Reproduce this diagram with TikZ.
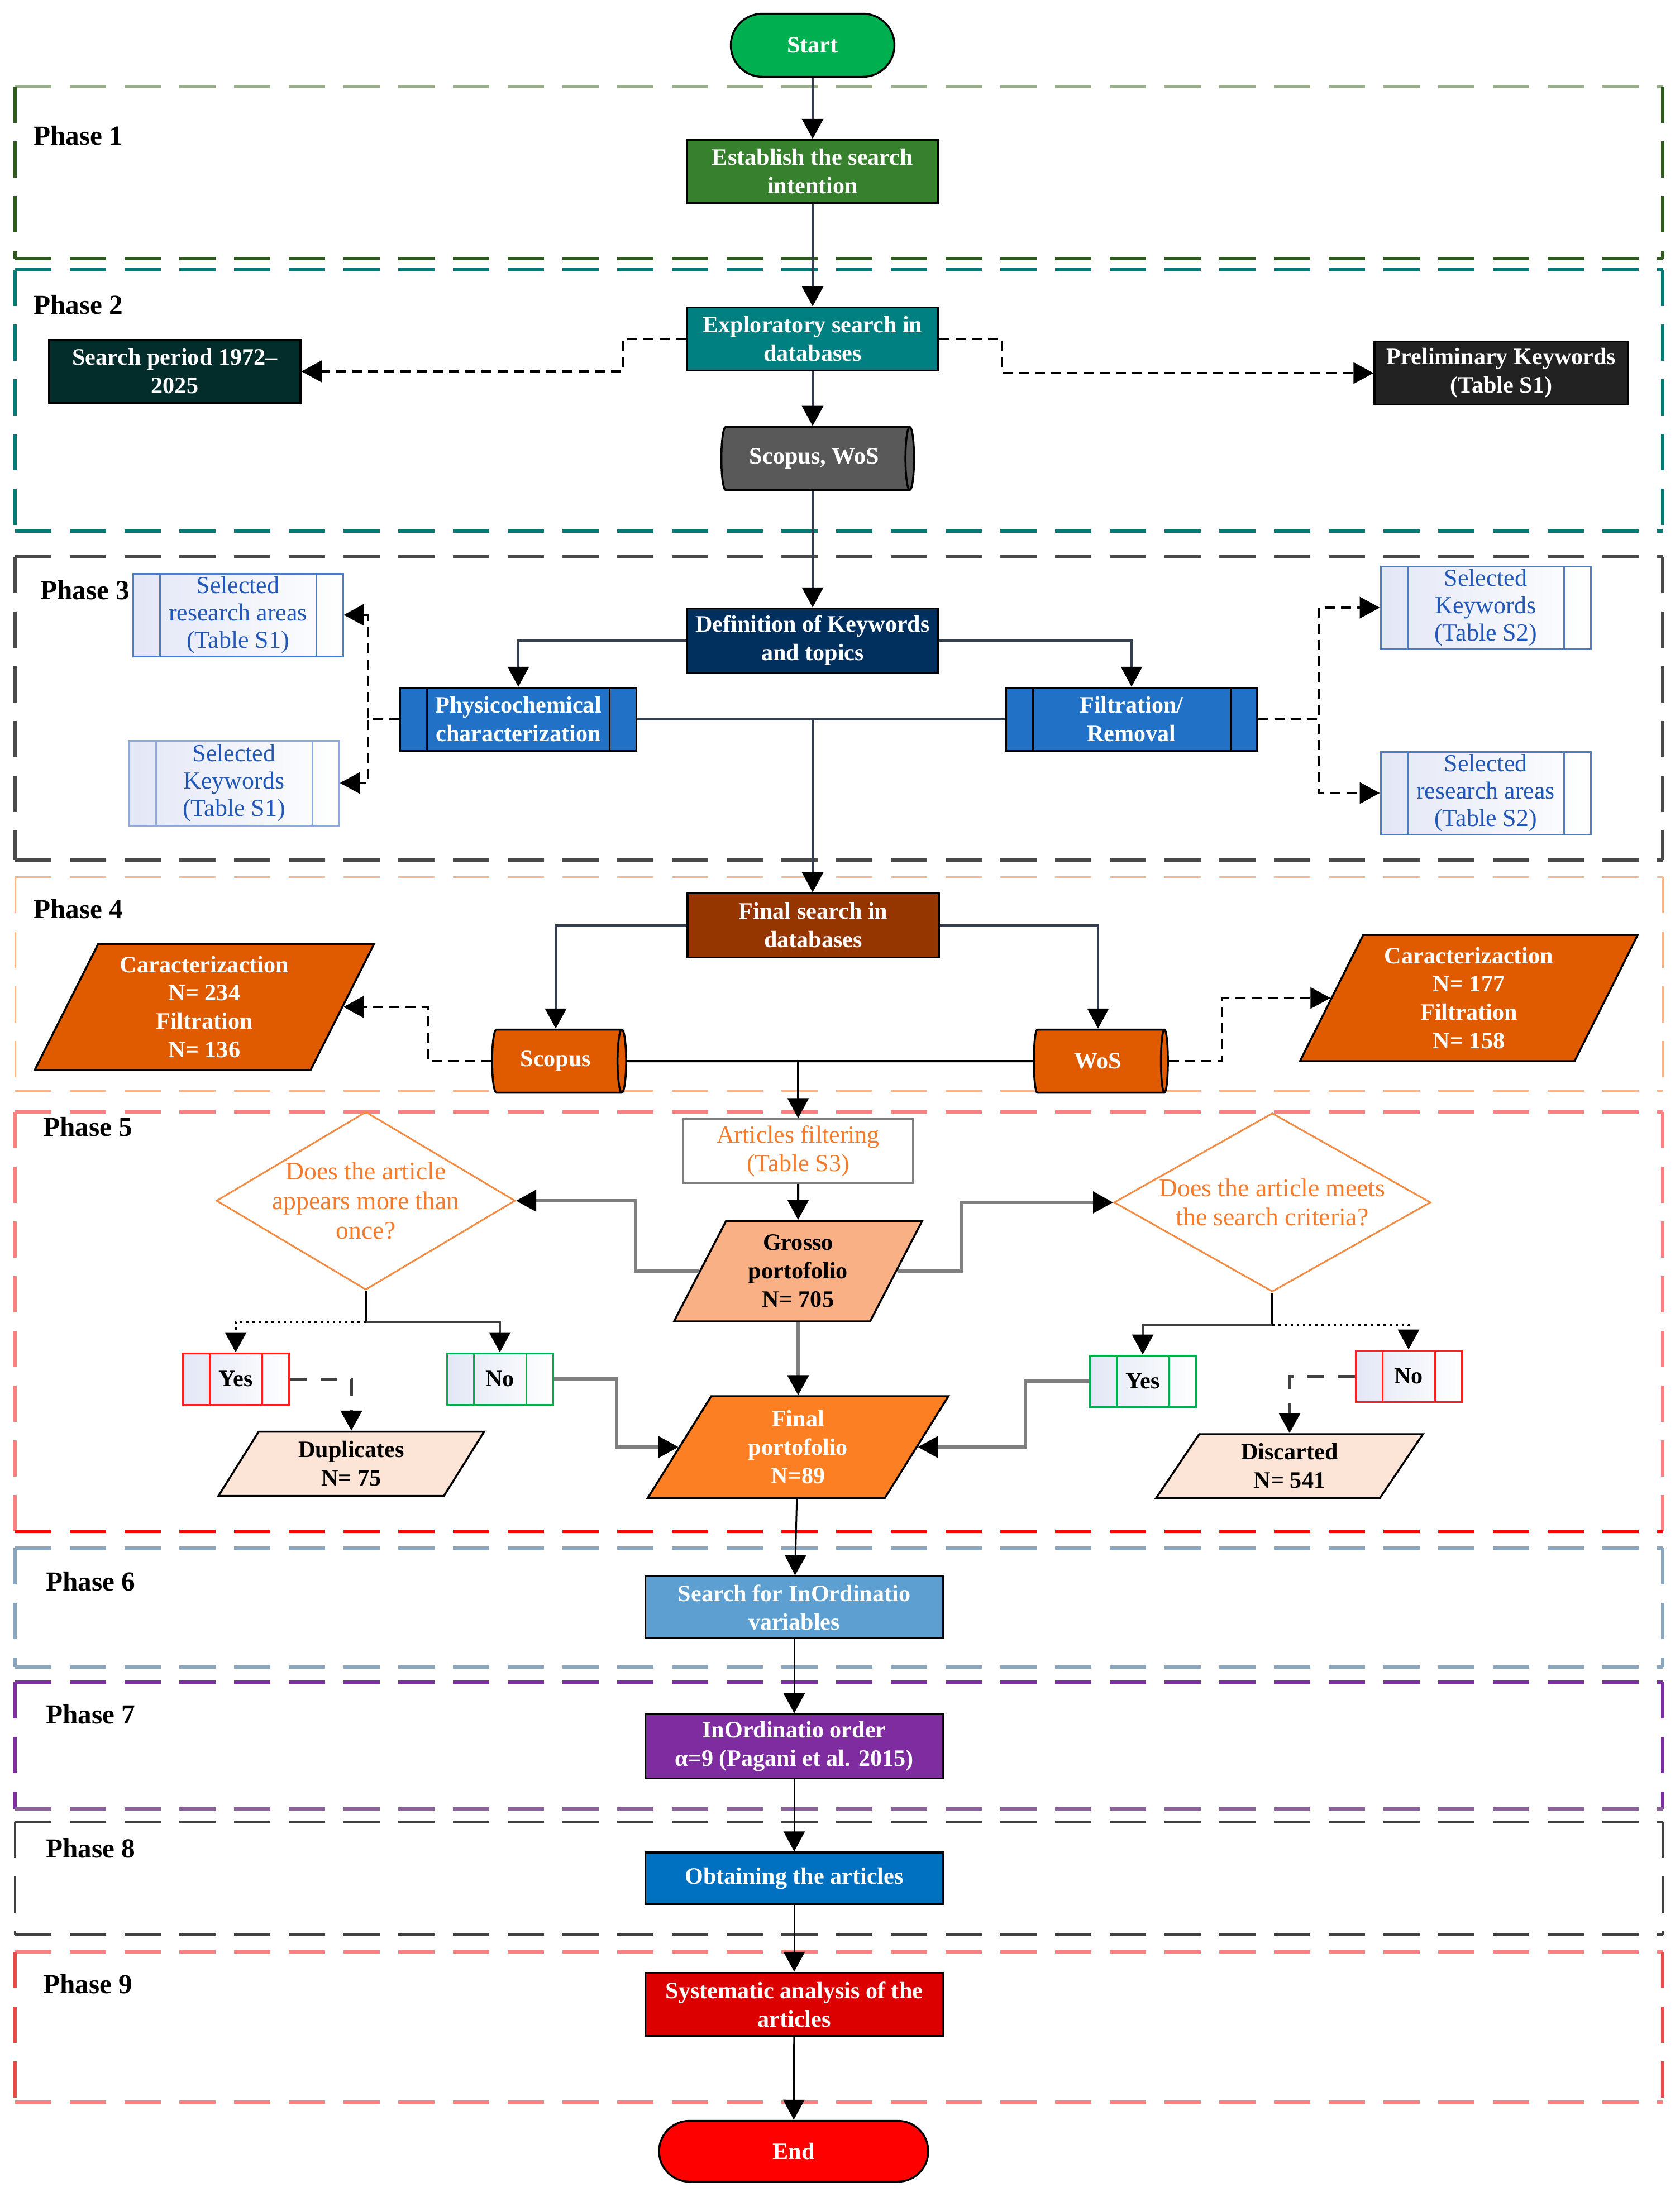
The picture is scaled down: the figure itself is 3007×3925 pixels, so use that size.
\documentclass[tikz,border=0pt]{standalone}
\usepackage{fontspec}
\setmainfont{Liberation Serif}
\usetikzlibrary{arrows.meta,shapes.geometric,shapes.misc}
\definecolor{startGreen}{HTML}{00B050}
\definecolor{estabGreen}{HTML}{37802D}
\definecolor{explTeal}{HTML}{008080}
\definecolor{periodDark}{HTML}{022D2B}
\definecolor{prelimDark}{HTML}{222222}
\definecolor{dbGrey}{HTML}{595959}
\definecolor{defNavy}{HTML}{01305F}
\definecolor{procBlue}{HTML}{2171C7}
\definecolor{listBlueA}{HTML}{4A7CCB}
\definecolor{listBlueB}{HTML}{8EAADB}
\definecolor{listText}{HTML}{2158B8}
\definecolor{lavLight}{HTML}{E3E7F6}
\definecolor{searchBrown}{HTML}{953500}
\definecolor{dbOrange}{HTML}{E05A00}
\definecolor{filtOrange}{HTML}{F47B2C}
\definecolor{decOrange}{HTML}{F28C45}
\definecolor{grossoPeach}{HTML}{F9B084}
\definecolor{finalOrange}{HTML}{FD7F24}
\definecolor{discPeach}{HTML}{FCE4D6}
\definecolor{noRed}{HTML}{FF1F1F}
\definecolor{yesGreen}{HTML}{00B050}
\definecolor{varBlue}{HTML}{5C9FD0}
\definecolor{ordPurple}{HTML}{7E2CA0}
\definecolor{getBlue}{HTML}{0070C0}
\definecolor{sysRed}{HTML}{DD0000}
\definecolor{endRed}{HTML}{FF0000}
\definecolor{spine}{HTML}{333F50}
\definecolor{connGrey}{HTML}{7F7F7F}
\definecolor{phOneTop}{HTML}{9AAE8E}
\definecolor{phOne}{HTML}{2E5A1E}
\definecolor{phTwo}{HTML}{007B76}
\definecolor{phThree}{HTML}{4A4A4A}
\definecolor{phFour}{HTML}{F8B88C}
\definecolor{phFive}{HTML}{FF8080}
\definecolor{phSix}{HTML}{8BA7BF}
\definecolor{phSevenTop}{HTML}{7B2FA0}
\definecolor{phSeven}{HTML}{8A619C}
\definecolor{phEight}{HTML}{404040}
\definecolor{phNine}{HTML}{FF8080}
\definecolor{phNineSide}{HTML}{E84A4A}
% dashed phase frame: [width]{top}{sides}{bottom}{y top}{y bottom}
\newcommand{\phaseFrame}[6][0.55mm]{%
  \draw[line width=#1, dash pattern=on 6.5mm off 3.3mm, #2] (27,#5) -- (2977,#5);
  \draw[line width=#1, dash pattern=on 6.5mm off 3.3mm, #3] (27,#5) -- (27,#6);
  \draw[line width=#1, dash pattern=on 6.5mm off 3.3mm, #3] (2977,#5) -- (2977,#6);
  \draw[line width=#1, dash pattern=on 6.5mm off 3.3mm, #4] (27,#6) -- (2977,#6);}

\begin{document}
\begin{tikzpicture}[
    x=0.1mm, y=-0.1mm,
    font=\fontsize{12}{14.5}\selectfont,
    box/.style={draw=black, line width=0.35mm, align=center, text=white,
                font=\fontsize{12}{14.5}\selectfont\bfseries,
                minimum width=45mm, minimum height=11.3mm, inner sep=1pt},
    termbox/.style={box, rounded rectangle, minimum width=30mm},
    procbox/.style={box, path picture={
        \draw[#1, line width=0.3mm] ([xshift=4.8mm]path picture bounding box.north west)
          -- ([xshift=4.8mm]path picture bounding box.south west);
        \draw[#1, line width=0.3mm] ([xshift=-4.8mm]path picture bounding box.north east)
          -- ([xshift=-4.8mm]path picture bounding box.south east);}},
    listbox/.style={procbox=#1, draw=#1, line width=0.3mm, left color=lavLight, right color=white,
                    text=listText, font=\fontsize{12.5}{14}\selectfont,
                    minimum width=37.6mm, minimum height=14.8mm},
    choicebox/.style={procbox=#1, draw=#1, line width=0.3mm, left color=lavLight, right color=white,
                      text=black, minimum width=19mm, minimum height=9.2mm},
    dbcyl/.style={box, cylinder, shape border rotate=0, aspect=0.35, fill=#1,
                  minimum width=11.3mm, minimum height=24mm},
    databox/.style={box, trapezium, trapezium left angle=64, trapezium right angle=116,
                    trapezium stretches=true},
    decision/.style={diamond, draw=decOrange, line width=0.3mm, text=filtOrange, align=center,
                     font=\fontsize{13}{15}\selectfont, inner sep=-1mm},
    phaselabel/.style={anchor=west, font=\fontsize{14}{16}\selectfont\bfseries},
    arr/.style={-{Triangle[length=3.6mm,width=3.8mm,color=black]}, line width=0.4mm, draw=spine},
    dasharr/.style={arr, draw=black, dash pattern=on 1.8mm off 1.1mm},
    garr/.style={arr, draw=connGrey, line width=0.6mm},
    ldarr/.style={arr, draw=phEight, line width=0.5mm, dash pattern=on 3mm off 2.5mm}
]
\useasboundingbox (0,0) rectangle (3007,3925);

% -- phase frames
\phaseFrame{phOneTop}{phOne}{phOne}{155}{463}
\phaseFrame{phTwo}{phTwo}{phTwo}{483}{951}
\phaseFrame{phThree}{phThree}{phThree}{997}{1540}
\phaseFrame[0.3mm]{phFour}{phFour}{phFour}{1570}{1953}
\phaseFrame{phFive}{phFive}{endRed}{1991}{2742}
\phaseFrame{phSix}{phSix}{phSix}{2772}{2985}
\phaseFrame{phSevenTop}{phSevenTop}{phSeven}{3012}{3239}
\phaseFrame[0.4mm]{phEight}{phEight}{phEight}{3262}{3464}
\phaseFrame{phNine}{phNineSide}{phNine}{3495}{3764}

\node[phaselabel] (lab1) at (48,243) {Phase 1};
\node[phaselabel] (lab2) at (48,546) {Phase 2};
\node[phaselabel] (lab3) at (60,1057) {Phase 3};
\node[phaselabel] (lab4) at (48,1628) {Phase 4};
\node[phaselabel] (lab5) at (65,2018) {Phase 5};
\node[phaselabel] (lab6) at (70,2832) {Phase 6};
\node[phaselabel] (lab7) at (70,3070) {Phase 7};
\node[phaselabel] (lab8) at (70,3310) {Phase 8};
\node[phaselabel] (lab9) at (65,3553) {Phase 9};

% -- Phase 1-2: intention and exploratory search
\node[termbox, fill=startGreen] (start) at (1455,81) {Start};
\node[box, fill=estabGreen] (estab) at (1455,307) {Establish the search\\intention};
\node[box, fill=explTeal] (explor) at (1455,607) {Exploratory search in\\databases};
\node[box, fill=periodDark] (period) at (313,665) {Search period 1972–\\2025};
\node[box, fill=prelimDark, minimum width=45.4mm] (prelim) at (2688,668) {Preliminary Keywords\\(Table S1)};
\node[dbcyl=dbGrey, minimum height=34.5mm] (scopwos) at (1458,821) {Scopus, WoS};

% -- Phase 3: keywords and topics
\node[box, fill=defNavy, minimum height=11.5mm] (defin) at (1455,1147) {Definition of Keywords\\and topics};
\node[procbox=black, fill=procBlue, minimum width=42.3mm] (phys) at (928,1288) {Physicochemical\\characterization};
\node[procbox=black, fill=procBlue] (filt) at (2026,1288) {Filtration/\\Removal};
\node[listbox=listBlueA] (rsaOne) at (426,1101) {Selected\\research areas\\(Table S1)};
\node[listbox=listBlueB, minimum height=15.2mm] (kwOne) at (419,1402) {Selected\\Keywords\\(Table S1)};
\node[listbox=listBlueA] (kwTwo) at (2660,1088) {Selected\\Keywords\\(Table S2)};
\node[listbox=listBlueA] (rsaTwo) at (2660,1420) {Selected\\research areas\\(Table S2)};
\coordinate (junc) at (phys.east -| defin.south);

% -- Phase 4: final search
\node[box, fill=searchBrown, minimum height=11.5mm] (fsearch) at (1456,1657) {Final search in\\databases};
\node[dbcyl=dbOrange] (scopus) at (995,1900) {Scopus};
\node[dbcyl=dbOrange] (wos) at (1966,1900) {WoS};
\node[databox, fill=dbOrange, minimum width=60.8mm, minimum height=22.6mm] (carOne) at (366,1803)
  {Caracterizaction\\N= 234\\Filtration\\N= 136};
\node[databox, fill=dbOrange, minimum width=60.5mm, minimum height=22.6mm] (carTwo) at (2630,1787)
  {Caracterizaction\\N= 177\\Filtration\\N= 158};
\coordinate (dbjoin) at (1429,1900);

% -- Phase 5: filtering
\node[box, fill=white, draw=connGrey, text=filtOrange, font=\fontsize{12.5}{14.5}\selectfont,
      minimum width=41.1mm, minimum height=11.4mm] (artfilt) at (1429,2061) {Articles filtering\\(Table S3)};
\node[databox, fill=grossoPeach, text=black, minimum width=44.5mm, minimum height=18mm] (grosso) at (1429,2276)
  {Grosso\\portofolio\\N= 705};
\node[databox, fill=finalOrange, minimum width=54.2mm, minimum height=18.2mm] (final) at (1429,2591)
  {Final\\portofolio\\N=89};
\node[decision, aspect=1.68, minimum width=53.5mm, minimum height=31.9mm] (decOne) at (655,2150)
  {Does the article\\appears more than\\once?};
\node[decision, aspect=1.77, minimum width=56.7mm, minimum height=32mm] (decTwo) at (2278,2153)
  {Does the article meets\\the search criteria?};
\coordinate (forkOne) at ([yshift=-5.6mm]decOne.south);
\coordinate (forkTwo) at ([yshift=-5.7mm]decTwo.south);
\node[choicebox=noRed] (yesOne) at (422,2469) {Yes};
\node[choicebox=yesGreen] (noOne) at (895,2469) {No};
\node[choicebox=yesGreen] (yesTwo) at (2046,2473) {Yes};
\node[choicebox=noRed] (noTwo) at (2522,2464) {No};
\node[databox, fill=discPeach, text=black, minimum width=47.8mm, minimum height=11.5mm] (dupl) at (629,2621)
  {Duplicates\\N= 75};
\node[databox, fill=discPeach, text=black, minimum width=47.8mm, minimum height=11.4mm] (disc) at (2309,2625)
  {Discarted\\N= 541};

% -- Phase 6-9
\node[box, fill=varBlue, minimum width=53.3mm, minimum height=11.1mm] (invars) at (1422,2878) {Search for InOrdinatio\\variables};
\node[box, fill=ordPurple, minimum width=53.3mm, minimum height=11.5mm] (inord) at (1422,3127) {InOrdinatio order\\α=9 (Pagani et al. 2015)};
\node[box, fill=getBlue, minimum width=53.3mm, minimum height=9.2mm] (obtain) at (1422,3363) {Obtaining the articles};
\node[box, fill=sysRed, minimum width=53.3mm, minimum height=11.3mm] (system) at (1422,3589) {Systematic analysis of the\\articles};
\node[termbox, fill=endRed, minimum width=48.9mm, minimum height=10.9mm] (endn) at (1421,3852) {End};

% -- arrows
\draw[arr] (start) -- (estab);
\draw[arr] (estab) -- (explor);
\draw[arr] (explor) -- (explor.south |- scopwos.north);
\draw[arr] (scopwos.south -| explor.south) -- (defin);
\draw[dasharr] (explor.west) -- ++(-112,0) |- (period.east);
\draw[dasharr] (explor.east) -- ++(112,0) |- (prelim.west);
\draw[arr] (defin.west) -| (phys.north);
\draw[arr] (defin.east) -| (filt.north);
\draw[arr, -] (phys.east) -- (filt.west);
\draw[arr] (junc) -- (fsearch.north -| junc);
\draw[dasharr] (phys.west) -- ++(-56,0) |- (rsaOne.east);
\draw[dasharr] (phys.west) -- ++(-56,0) |- (kwOne.east);
\draw[dasharr] (filt.east) -- ++(108,0) |- (kwTwo.west);
\draw[dasharr] (filt.east) -- ++(108,0) |- (rsaTwo.west);
\draw[arr] (fsearch.west) -| (scopus.north);
\draw[arr] (fsearch.east) -| (wos.north);
\draw[arr, -, draw=black] (scopus.east) -- (wos.west);
\draw[arr, draw=black] (dbjoin) -- (artfilt.north);
\draw[dasharr] (scopus.west) -- ++(-112,0) |- (carOne.east);
\draw[dasharr] (wos.east) -- ++(95,0) |- (carTwo.west);
\draw[arr, draw=black] (artfilt) -- (grosso);
\draw[garr] (grosso) -- (final);
\draw[garr] (grosso.west) -- ++(-114,0) |- (decOne.east);
\draw[garr] (grosso.east) -- ++(114,0) |- (decTwo.west);
\draw[arr, -, draw=black] (decOne.south) -- (forkOne);
\draw[arr, draw=black, dotted] (forkOne) -| (yesOne.north);
\draw[arr, draw=phEight] (forkOne) -| (noOne.north);
\draw[ldarr] (yesOne.east) -| (dupl.north);
\draw[garr] (noOne.east) -- ++(112,0) |- (final.west);
\draw[arr, -, draw=black] (decTwo.south) -- (forkTwo);
\draw[arr, draw=phEight] (forkTwo) -| (yesTwo.north);
\draw[arr, draw=black, dotted] (forkTwo) -| (noTwo.north);
\draw[garr] (yesTwo.west) -- ++(-114,0) |- (final.east);
\draw[ldarr] (noTwo.west) -| (disc.north);
\draw[arr, draw=black, line width=0.3mm] (final) -- (invars);
\draw[arr, draw=black, line width=0.3mm] (invars) -- (inord);
\draw[arr, draw=black, line width=0.3mm] (inord) -- (obtain);
\draw[arr, draw=black, line width=0.3mm] (obtain) -- (system);
\draw[arr, draw=black, line width=0.3mm] (system) -- (endn);

\end{tikzpicture}
\end{document}
